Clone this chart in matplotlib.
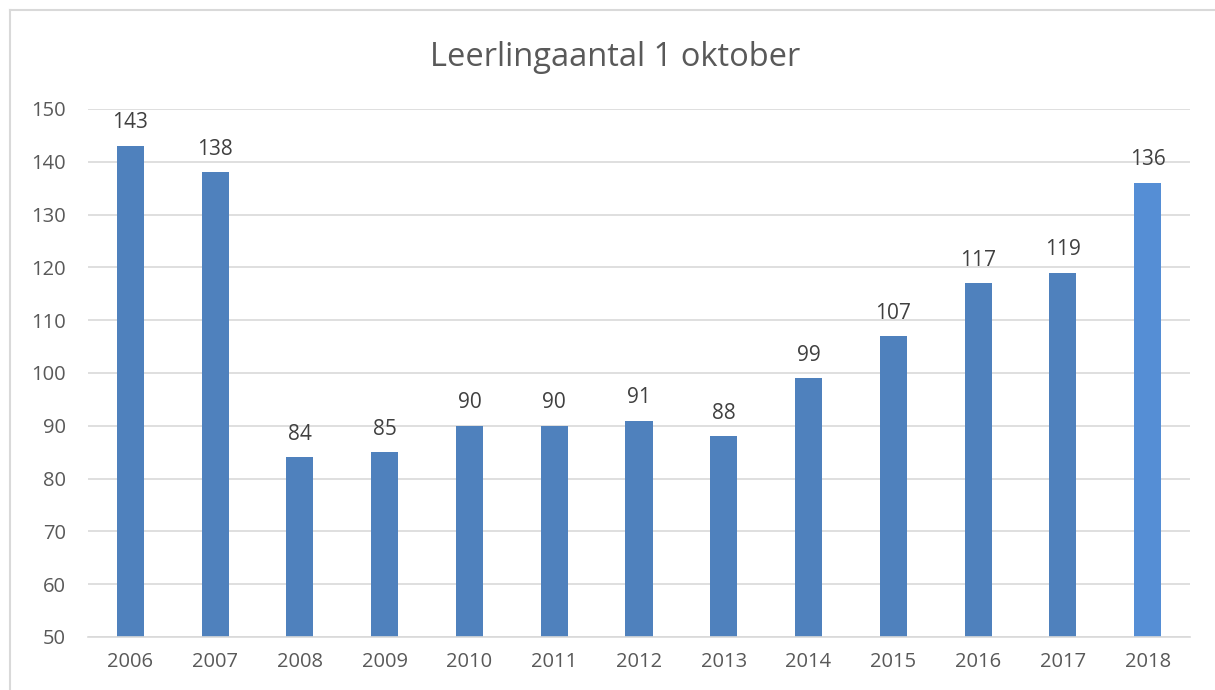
import matplotlib.pyplot as plt
from matplotlib.lines import Line2D

years = ['2006', '2007', '2008', '2009', '2010', '2011', '2012',
         '2013', '2014', '2015', '2016', '2017', '2018']
counts = [143, 138, 84, 85, 90, 90, 91, 88, 99, 107, 117, 119, 136]
colors = ['#4F81BD'] * 12 + ['#558ED5']

plt.rcParams['font.family'] = ['Open Sans', 'DejaVu Sans']

fig = plt.figure(figsize=(12.15, 6.9), dpi=100)
ax = fig.add_axes([88 / 1215, 1 - 637 / 690, (1190 - 88) / 1215, (637 - 109) / 690])

x = range(len(years))
bars = ax.bar(x, counts, width=0.32, color=colors, zorder=2)
ax.bar_label(bars, labels=[str(c) for c in counts], padding=9,
             fontsize=15, color='#404040')

ax.set_xlim(-0.5, len(years) - 0.5)
ax.set_ylim(50, 150)
ax.set_yticks(range(50, 151, 10))
ax.set_xticks(list(x))
ax.set_xticklabels(years)
ax.tick_params(axis='both', length=0, labelsize=14.5, labelcolor='#595959')
ax.tick_params(axis='x', pad=11)
ax.tick_params(axis='y', pad=16)
ax.grid(axis='y', color='#D9D9D9', linewidth=1.2, zorder=0)
for s in ['top', 'right', 'left']:
    ax.spines[s].set_visible(False)
ax.spines['bottom'].set_color('#D9D9D9')
ax.spines['bottom'].set_linewidth(1.2)

fig.text(615 / 1215, 1 - 57 / 690, 'Leerlingaantal 1 oktober', ha='center',
         va='center', fontsize=23.5, color='#595959')

# chart frame: only left and top edges are visible in the crop
y_top = 1 - 10 / 690
x_left = 10 / 1215
fig.add_artist(Line2D([x_left, x_left], [0, y_top], transform=fig.transFigure,
                      color='#D9D9D9', linewidth=1.5))
fig.add_artist(Line2D([x_left, 1], [y_top, y_top], transform=fig.transFigure,
                      color='#D9D9D9', linewidth=1.5))

fig.savefig('out.png', dpi=100)
